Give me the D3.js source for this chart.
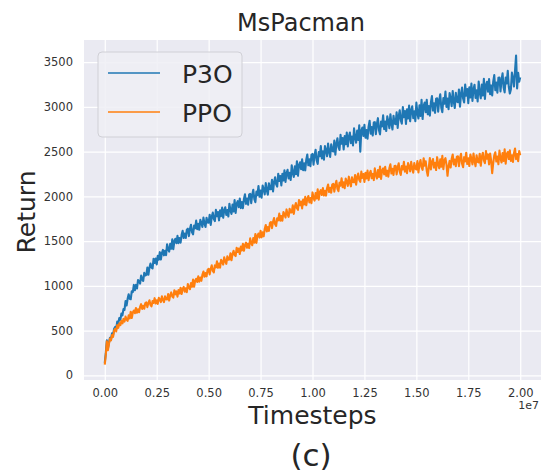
<!DOCTYPE html>
<html>
<head>
<meta charset="utf-8">
<script src="https://cdn.jsdelivr.net/npm/d3@7"></script>
<style>
  body { margin: 0; background: #fff; }
  text { font-family: "DejaVu Sans", sans-serif; }
</style>
</head>
<body>
<svg id="chart"></svg>
<script>
// returns sampled every 5e4 timesteps (401 points, 0 .. 2e7), one row = 1e6 steps
const stepSize = 5e4;

const p3oReturns = [
  140, 250, 390, 300, 360, 420, 400, 470, 450, 520, 540, 520, 600, 580, 640, 620, 690, 670, 740, 730,
  830, 780, 855, 905, 855, 850, 940, 930, 1010, 950, 1010, 970, 1065, 1050, 1025, 1115, 1075, 1055, 1145, 1115,
  1122, 1203, 1123, 1203, 1250, 1203, 1195, 1303, 1256, 1304, 1240, 1335, 1292, 1376, 1294, 1367, 1401, 1341, 1392, 1343,
  1464, 1408, 1382, 1470, 1414, 1520, 1410, 1498, 1526, 1476, 1558, 1477, 1534, 1483, 1570, 1615, 1534, 1585, 1534, 1627,
  1639, 1556, 1636, 1683, 1599, 1575, 1674, 1643, 1729, 1633, 1693, 1627, 1738, 1705, 1658, 1762, 1696, 1657, 1761, 1708,
  1705, 1795, 1681, 1771, 1818, 1747, 1724, 1849, 1777, 1825, 1732, 1843, 1778, 1875, 1761, 1844, 1877, 1792, 1846, 1775,
  1918, 1842, 1803, 1908, 1831, 1958, 1814, 1919, 1947, 1879, 1975, 1869, 1936, 1867, 1971, 2023, 1916, 1976, 1907, 2019,
  2028, 1923, 2018, 2073, 1968, 1935, 2054, 2013, 2116, 1995, 2066, 1985, 2120, 2079, 2022, 2149, 2068, 2019, 2146, 2081,
  2080, 2184, 2055, 2159, 2214, 2134, 2109, 2253, 2172, 2228, 2123, 2251, 2178, 2290, 2161, 2257, 2296, 2200, 2263, 2183,
  2347, 2261, 2217, 2336, 2249, 2393, 2230, 2349, 2381, 2304, 2413, 2293, 2369, 2291, 2409, 2468, 2347, 2415, 2337, 2464,
  2474, 2355, 2460, 2521, 2401, 2363, 2495, 2448, 2562, 2425, 2503, 2411, 2561, 2514, 2448, 2590, 2497, 2441, 2582, 2508,
  2502, 2623, 2467, 2587, 2650, 2551, 2519, 2687, 2588, 2652, 2524, 2673, 2584, 2714, 2558, 2669, 2713, 2595, 2668, 2569,
  2760, 2655, 2600, 2735, 2630, 2795, 2500, 2735, 2770, 2675, 2800, 2655, 2740, 2645, 2780, 2845, 2700, 2775, 2680, 2825,
  2830, 2695, 2809, 2874, 2738, 2693, 2837, 2782, 2906, 2751, 2835, 2730, 2894, 2839, 2763, 2918, 2812, 2747, 2901, 2816,
  2807, 2939, 2764, 2895, 2962, 2851, 2813, 2997, 2885, 2954, 2810, 2973, 2872, 3014, 2839, 2960, 3006, 2874, 2952, 2841,
  3049, 2932, 2870, 3017, 2900, 3080, 2864, 3011, 3048, 2942, 3078, 2917, 3009, 2903, 3050, 3120, 2959, 3040, 2934, 3092,
  3096, 2946, 3071, 3141, 2991, 2940, 3098, 3036, 3172, 3000, 3092, 2975, 3155, 3093, 3009, 3178, 3061, 2988, 3157, 3062,
  3052, 3195, 3002, 3144, 3216, 3093, 3050, 3250, 3126, 3200, 3041, 3218, 3106, 3260, 3067, 3198, 3247, 3101, 3185, 3062,
  3284, 3161, 3096, 3250, 3127, 3315, 3089, 3243, 3281, 3170, 3312, 3143, 3240, 3128, 3282, 3355, 3186, 3271, 3160, 3325,
  3329, 3172, 3302, 3375, 3216, 3163, 3327, 3262, 3403, 3223, 3150, 3195, 3383, 3318, 3228, 3405, 3575, 3205, 3381, 3281,
  3330
];

const ppoReturns = [
  120, 230, 380, 280, 350, 410, 390, 450, 430, 500, 520, 490, 560, 530, 580, 560, 610, 580, 630, 600,
  656, 622, 608, 670, 636, 710, 640, 702, 724, 694, 752, 699, 738, 705, 764, 795, 742, 777, 744, 807,
  814, 762, 810, 838, 786, 770, 830, 810, 862, 802, 838, 798, 866, 846, 818, 882, 842, 818, 882, 850,
  847, 907, 835, 894, 926, 881, 868, 950, 905, 938, 879, 953, 914, 979, 908, 964, 988, 935, 973, 929,
  1021, 980, 962, 1030, 989, 1070, 989, 1057, 1079, 1043, 1106, 1047, 1093, 1056, 1124, 1160, 1101, 1142, 1106, 1178,
  1190, 1128, 1191, 1229, 1167, 1150, 1228, 1206, 1274, 1202, 1250, 1203, 1291, 1269, 1237, 1320, 1273, 1246, 1329, 1292,
  1295, 1363, 1286, 1354, 1392, 1345, 1333, 1426, 1379, 1417, 1355, 1438, 1396, 1469, 1392, 1455, 1483, 1426, 1469, 1422,
  1530, 1478, 1454, 1535, 1483, 1580, 1479, 1560, 1585, 1539, 1614, 1542, 1598, 1553, 1636, 1680, 1608, 1658, 1614, 1702,
  1713, 1645, 1715, 1757, 1688, 1670, 1756, 1732, 1807, 1728, 1781, 1728, 1825, 1800, 1763, 1854, 1801, 1771, 1862, 1820,
  1820, 1899, 1804, 1883, 1926, 1867, 1850, 1959, 1900, 1943, 1866, 1963, 1910, 1995, 1900, 1973, 2004, 1933, 1982, 1923,
  2044, 1984, 1953, 2037, 1976, 2078, 1963, 2047, 2070, 2016, 2093, 2009, 2062, 2008, 2091, 2133, 2048, 2096, 2041, 2131,
  2139, 2053, 2129, 2173, 2085, 2058, 2153, 2119, 2201, 2102, 2158, 2091, 2200, 2166, 2117, 2220, 2152, 2112, 2214, 2160,
  2157, 2239, 2131, 2212, 2254, 2185, 2162, 2276, 2207, 2250, 2161, 2262, 2200, 2288, 2180, 2255, 2284, 2202, 2251, 2182,
  2313, 2239, 2199, 2293, 2218, 2333, 2195, 2289, 2312, 2245, 2331, 2229, 2287, 2220, 2313, 2358, 2255, 2307, 2239, 2340,
  2342, 2246, 2325, 2369, 2273, 2240, 2340, 2300, 2386, 2276, 2334, 2259, 2373, 2333, 2279, 2386, 2311, 2264, 2371, 2310,
  2302, 2395, 2268, 2360, 2406, 2325, 2296, 2426, 2344, 2392, 2287, 2230, 2328, 2428, 2301, 2386, 2417, 2321, 2375, 2294,
  2438, 2357, 2313, 2413, 2331, 2453, 2304, 2404, 2427, 2354, 2230, 2334, 2396, 2322, 2421, 2468, 2356, 2411, 2337, 2444,
  2448, 2337, 2426, 2475, 2364, 2325, 2438, 2391, 2488, 2361, 2426, 2339, 2468, 2421, 2358, 2479, 2392, 2337, 2458, 2387,
  2380, 2477, 2342, 2439, 2488, 2401, 2370, 2507, 2420, 2469, 2358, 2479, 2400, 2260, 2370, 2459, 2492, 2389, 2446, 2359,
  2512, 2425, 2378, 2483, 2396, 2525, 2366, 2471, 2496, 2417, 2514, 2395, 2460, 2385, 2486, 2535, 2416, 2473, 2394, 2507,
  2460
];

const seriesNames = ["P3O", "PPO"];
const seriesColors = ["#1f77b4", "#ff7f0e"];
const xTickValues = [0, 0.25e7, 0.5e7, 0.75e7, 1e7, 1.25e7, 1.5e7, 1.75e7, 2e7];
const yTickValues = [0, 500, 1000, 1500, 2000, 2500, 3000, 3500];

const W = 542, H = 476;
const margin = { top: 40, right: 1, bottom: 96, left: 84 };
const width = W - margin.left - margin.right;
const height = H - margin.top - margin.bottom;

const series = [p3oReturns, ppoReturns].map((vals, k) => ({
  name: seriesNames[k],
  color: seriesColors[k],
  values: vals.map((v, i) => ({ t: i * stepSize, y: v }))
}));

const svg = d3.select("#chart")
  .attr("width", W)
  .attr("height", H);

const g = svg.append("g")
  .attr("transform", `translate(${margin.left},${margin.top})`);

// matplotlib-style 5% padding on both axes
const allPts = series.flatMap(s => s.values);
const [tMin, tMax] = d3.extent(allPts, d => d.t);
const [yMin, yMax] = d3.extent(allPts, d => d.y);
const tPad = (tMax - tMin) * 0.05, yPad = (yMax - yMin) * 0.05;

const x = d3.scaleLinear().domain([tMin - tPad, tMax + tPad]).range([0, width]);
const y = d3.scaleLinear().domain([yMin - yPad, yMax + yPad]).range([height, 0]);

g.append("rect")
  .attr("width", width)
  .attr("height", height)
  .attr("fill", "#eaeaf2");

// grid + tick labels via axes
const xAxis = g.append("g")
  .attr("transform", `translate(0,${height})`)
  .call(d3.axisBottom(x).tickValues(xTickValues).tickSize(-height).tickPadding(9)
    .tickFormat(d => (d / 1e7).toFixed(2)));

const yAxis = g.append("g")
  .call(d3.axisLeft(y).tickValues(yTickValues).tickSize(-width).tickPadding(11)
    .tickFormat(d3.format("d")));

[xAxis, yAxis].forEach(ax => {
  ax.select(".domain").remove();
  ax.selectAll(".tick line").attr("stroke", "#fff").attr("stroke-width", 1.2);
  ax.selectAll(".tick text").attr("fill", "#333").style("font-size", "11.5px");
});

g.append("clipPath").attr("id", "clip")
  .append("rect").attr("width", width).attr("height", height);

const line = d3.line()
  .x(d => x(d.t))
  .y(d => y(d.y));

g.append("g").attr("clip-path", "url(#clip)")
  .selectAll("path")
  .data(series)
  .enter()
  .append("path")
  .attr("d", d => line(d.values))
  .attr("fill", "none")
  .attr("stroke", d => d.color)
  .attr("stroke-width", 2.1)
  .attr("stroke-linejoin", "round");

// offset text for x axis
g.append("text")
  .attr("x", width - 2)
  .attr("y", height + 29)
  .attr("text-anchor", "end")
  .attr("fill", "#333")
  .style("font-size", "11px")
  .text("1e7");

// title & labels
svg.append("text")
  .attr("x", 301)
  .attr("y", 31)
  .attr("text-anchor", "middle")
  .attr("fill", "#262626")
  .style("font-size", "24px")
  .text("MsPacman");

svg.append("text")
  .attr("x", margin.left + width / 2)
  .attr("y", 424)
  .attr("text-anchor", "middle")
  .attr("fill", "#262626")
  .style("font-size", "25px")
  .text("Timesteps");

svg.append("text")
  .attr("transform", "rotate(-90)")
  .attr("x", -212)
  .attr("y", 35)
  .attr("text-anchor", "middle")
  .attr("fill", "#262626")
  .style("font-size", "25px")
  .text("Return");

svg.append("text")
  .attr("x", 311)
  .attr("y", 466)
  .attr("text-anchor", "middle")
  .attr("fill", "#262626")
  .style("font-size", "31px")
  .text("(c)");

// legend
const legend = svg.append("g").attr("transform", "translate(98,52)");

legend.append("rect")
  .attr("width", 144)
  .attr("height", 85)
  .attr("rx", 4)
  .attr("fill", "#eeeef4")
  .attr("fill-opacity", 0.85)
  .attr("stroke", "#d0d0d6");

const item = legend.selectAll(".item")
  .data(series)
  .enter()
  .append("g")
  .attr("class", "item")
  .attr("transform", (d, i) => `translate(0,${21 + i * 39})`);

item.append("line")
  .attr("x1", 10)
  .attr("x2", 62)
  .attr("stroke", d => d.color)
  .attr("stroke-width", 1.5);

item.append("text")
  .attr("x", 84)
  .attr("y", 10)
  .attr("fill", "#262626")
  .style("font-size", "25px")
  .text(d => d.name);
</script>
</body>
</html>
